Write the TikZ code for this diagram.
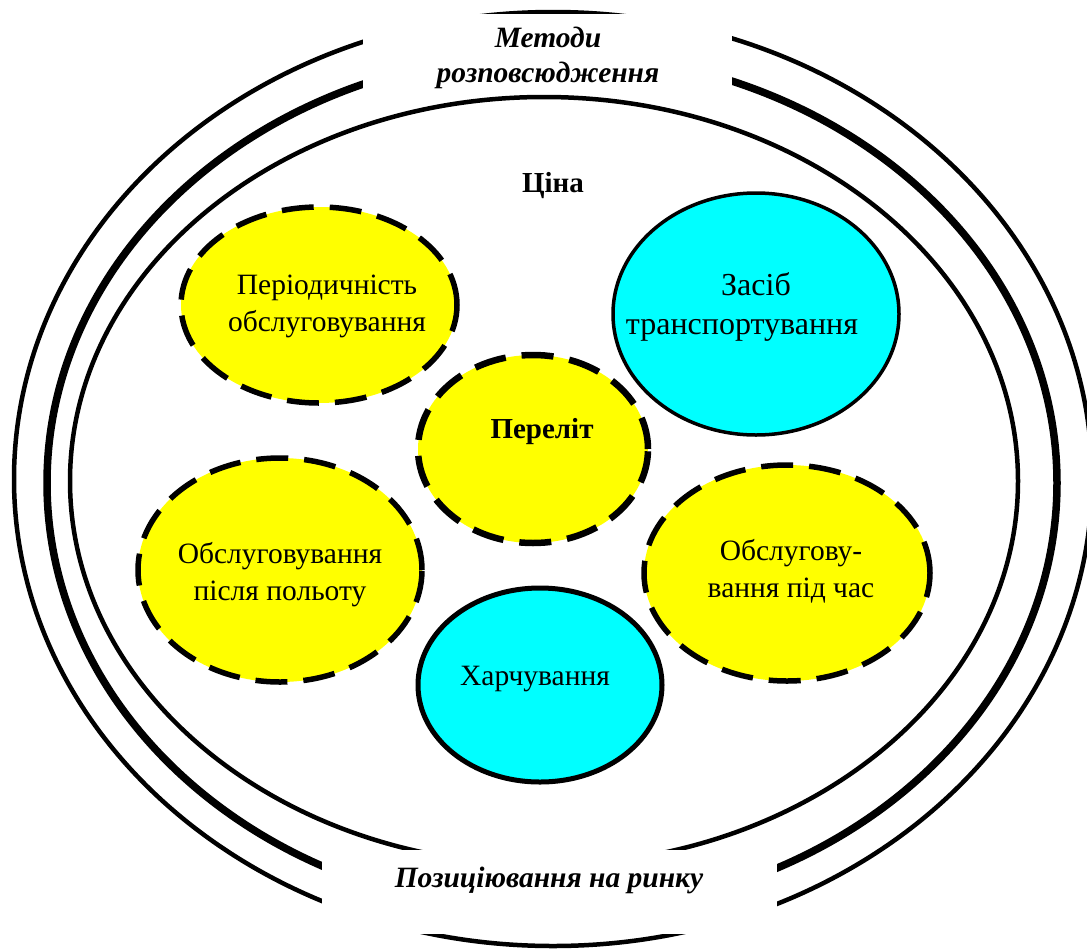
\documentclass[tikz,border=0pt]{standalone}
\usepackage{fontspec}
\setmainfont{Liberation Serif}
\usetikzlibrary{shapes.geometric}
\definecolor{yel}{HTML}{FFFF00}
\definecolor{cya}{HTML}{00FFFF}
\begin{document}
\begin{tikzpicture}[x=1pt,y=-1pt,
  ringthin/.style={draw=black,line width=4.5pt},
  ringthick/.style={draw=black,line width=7.5pt},
  yelbubble/.style={ellipse,draw=black,fill=yel,line width=5.5pt,dash pattern=on 32pt off 16pt,inner sep=0pt},
  cyabubble/.style={ellipse,draw=black,fill=cya,line width=4pt,inner sep=0pt},
  txt/.style={font=\fontsize{29.5}{37}\selectfont,align=center,inner sep=0pt},
  btxt/.style={font=\fontsize{29}{37}\selectfont\bfseries,align=center,inner sep=0pt},
  bitxt/.style={font=\fontsize{29.5}{35}\selectfont\bfseries\itshape,align=center,inner sep=0pt}]
\clip (0,0) rectangle (1087,948);
\fill[white] (0,0) rectangle (1087,948);
% rings
\draw[ringthin] (553,479) ellipse [x radius=539, y radius=467];
\draw[ringthick] (552,483) ellipse [x radius=505, y radius=430];
\draw[ringthin] (544,481) ellipse [x radius=474, y radius=384];
% white gaps for the ring labels
\fill[white] (363,13.5) rectangle (732,93);
\fill[white] (322,850) rectangle (777,934);
% ring labels
\node[bitxt] (metody) at (548,58) {Методи\\розповсюдження};
\node[bitxt,anchor=base] (pozyts) at (549,887) {Позиціювання на ринку};
\node[btxt,anchor=base] (tsina) at (553,192) {Ціна};
% bubbles
\node[yelbubble,minimum width=276,minimum height=196] (period) at (319,305) {};
\node[cyabubble,line width=3.5pt,minimum width=286,minimum height=242] (zasib) at (756,314) {};
\node[yelbubble,line width=6.5pt,minimum width=230,minimum height=188] (perelit) at (533,449) {};
\node[yelbubble,minimum width=284,minimum height=224] (pislia) at (280,570) {};
\node[yelbubble,minimum width=286,minimum height=216] (pidchas) at (787,573) {};
\node[cyabubble,line width=5pt,minimum width=244,minimum height=194] (kharch) at (540,685) {};
% bubble texts
\node[txt,font=\fontsize{32}{39}\selectfont] (tzasib) at (742,307) {\hspace*{28pt}Засіб\\транспортування};
\node[txt] (tperiod) at (327,306.5) {Періодичність\\обслуговування};
\node[btxt,anchor=base] (tperelit) at (542,438) {Переліт};
\node[txt] (tpislia) at (280,574.5) {Обслуговування\\після польоту};
\node[txt] (tpidchas) at (791,571.5) {Обслугову-\\вання під час};
\node[txt,anchor=base] (tkharch) at (535,685) {Харчування};
\end{tikzpicture}
\end{document}
